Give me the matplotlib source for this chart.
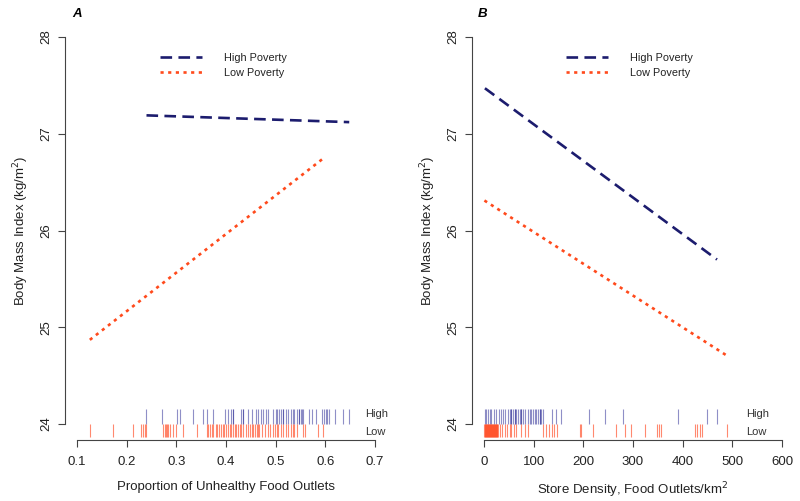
import matplotlib
matplotlib.use("Agg")
import matplotlib.pyplot as plt

plt.rcParams["font.family"] = ["Liberation Sans", "DejaVu Sans"]

HIGH_C = "#1c1c6e"
LOW_C = "#ff4a1c"
RUG_HI = "#333399"
RUG_LO = "#ff3a10"

# panel A: predicted BMI vs proportion of unhealthy outlets (line end points)
a_high_x = [0.240, 0.648]
a_high_y = [27.19, 27.12]
a_low_x = [0.126, 0.597]
a_low_y = [24.87, 26.75]

# panel B: predicted BMI vs store density
b_high_x = [2, 469]
b_high_y = [27.47, 25.70]
b_low_x = [1, 488]
b_low_y = [26.31, 24.71]

# rug values
a_rug_high = [0.240, 0.272, 0.302, 0.307, 0.333, 0.354, 0.361, 0.373, 0.398, 0.404,
              0.410, 0.415, 0.415, 0.431, 0.435, 0.435, 0.445, 0.452, 0.460, 0.465,
              0.470, 0.475, 0.480, 0.485, 0.495, 0.500, 0.503, 0.507, 0.510, 0.515,
              0.515, 0.521, 0.525, 0.530, 0.534, 0.537, 0.542, 0.547, 0.547, 0.550,
              0.553, 0.555, 0.567, 0.574, 0.582, 0.594, 0.597, 0.601, 0.604, 0.608,
              0.619, 0.635, 0.648]
a_rug_low = [0.126, 0.172, 0.213, 0.228, 0.233, 0.237, 0.240, 0.274, 0.277, 0.279,
             0.282, 0.284, 0.287, 0.293, 0.299, 0.313, 0.342, 0.361, 0.364, 0.368,
             0.371, 0.374, 0.380, 0.382, 0.386, 0.389, 0.393, 0.396, 0.400, 0.404,
             0.408, 0.411, 0.415, 0.418, 0.421, 0.425, 0.428, 0.431, 0.435, 0.440,
             0.445, 0.448, 0.452, 0.455, 0.458, 0.462, 0.465, 0.467, 0.472, 0.478,
             0.485, 0.488, 0.494, 0.498, 0.502, 0.505, 0.510, 0.515, 0.521, 0.525,
             0.530, 0.534, 0.537, 0.542, 0.555, 0.559, 0.586, 0.596]
b_rug_high = [1.3, 4.7, 8.0, 11.4, 14.8, 20.1, 24.8, 29.5, 33.5, 38.2, 42.9, 48.3,
              51.6, 55.0, 55.0, 58.3, 61.7, 61.7, 65.0, 68.4, 71.8, 75.1, 75.1, 78.5,
              81.8, 88.5, 91.9, 95.2, 98.6, 101.9, 105.3, 108.6, 112.0, 112.0, 115.4,
              118.7, 137, 145.5, 155.6, 211, 243, 280, 391, 448, 469]
b_rug_low = [1, 2, 3, 4, 5, 6, 7, 8, 9, 10, 11, 12, 13, 14, 15, 16, 17, 18, 19, 20,
             21, 22, 23, 24, 25, 26, 27, 28, 31.5, 36.2, 41.6, 46.9, 51.6, 55, 60.4,
             65, 75, 81.8, 88.5, 118.7, 125.4, 130, 136.8, 142, 147.5, 192.5, 196,
             218.6, 265.6, 283.7, 295, 323.9, 348.8, 351.5, 355.5, 424.6, 429.3,
             434.7, 438, 488.2]

DASH = (4.4, 2.4)
DOT = (1.2, 1.7)
FS = 9.5
LEG_FS = 7.8

fig = plt.figure(figsize=(8, 5.01), dpi=100)
W, H = 800, 501
axA = fig.add_axes([65 / W, 1 - 439.5 / H, 322 / W, 418 / H])
axB = fig.add_axes([472 / W, 1 - 439.5 / H, 322 / W, 418 / H])


def style(ax, xlim, xticks, xlabel, rug_hi, rug_lo, lab_x):
    lo, hi = xlim
    pad = (hi - lo) * 0.04
    ax.set_xlim(lo - pad, hi + pad)
    ax.set_ylim(24 - 0.16, 28 + 0.16)
    for s in ["top", "right"]:
        ax.spines[s].set_visible(False)
    ax.spines["left"].set_bounds(24, 28)
    ax.spines["bottom"].set_bounds(lo, hi)
    for s in ["left", "bottom"]:
        ax.spines[s].set_color("#444444")
        ax.spines[s].set_linewidth(0.8)
    ax.set_xticks(xticks)
    ax.set_yticks([24, 25, 26, 27, 28])
    ax.tick_params(length=5, width=0.8, color="#444444", labelsize=FS,
                   labelcolor="#222222")
    ax.tick_params(axis="x", pad=7)
    ax.tick_params(axis="y", pad=4)
    for t in ax.get_yticklabels():
        t.set_rotation(90)
        t.set_va("center")
    ax.set_xlabel(xlabel, fontsize=FS, color="#222222", labelpad=9)
    ax.set_ylabel("Body Mass Index (kg/m$^2$)", fontsize=FS, color="#222222", labelpad=7)
    ax.vlines(rug_hi, 24.0, 24.16, color=RUG_HI, alpha=0.55, lw=0.8)
    ax.vlines(rug_lo, 23.87, 24.0, color=RUG_LO, alpha=0.6, lw=0.8)
    ax.text(lab_x, 24.105, "High", fontsize=8, color="#333333", va="center")
    ax.text(lab_x, 23.92, "Low", fontsize=8, color="#333333", va="center")


style(axA, (0.1, 0.7), [0.1, 0.2, 0.3, 0.4, 0.5, 0.6, 0.7],
      "Proportion of Unhealthy Food Outlets", a_rug_high, a_rug_low, 0.679)
style(axB, (0, 600), [0, 100, 200, 300, 400, 500, 600],
      "Store Density, Food Outlets/km$^2$", b_rug_high, b_rug_low, 527)
axA.set_xticklabels(["0.1", "0.2", "0.3", "0.4", "0.5", "0.6", "0.7"])

for ax, hx, hy, lx, ly, lgx in [(axA, a_high_x, a_high_y, a_low_x, a_low_y, 0.295),
                                (axB, b_high_x, b_high_y, b_low_x, b_low_y, 0.292)]:
    h, = ax.plot(hx, hy, color=HIGH_C, lw=1.9, dashes=DASH, label="High Poverty")
    l, = ax.plot(lx, ly, color=LOW_C, lw=1.9, dashes=DOT, label="Low Poverty")
    ax.legend(handles=[h, l], loc="center left", bbox_to_anchor=(lgx, 0.895),
              frameon=False, fontsize=LEG_FS, handlelength=3.9, handletextpad=2.0,
              labelspacing=0.45, borderpad=0, borderaxespad=0, labelcolor="#222222")

fig.text(77 / W, 1 - 14 / H, "A", fontsize=9.5, fontweight="bold", fontstyle="italic",
         ha="center", va="center")
fig.text(483 / W, 1 - 14 / H, "B", fontsize=9.5, fontweight="bold", fontstyle="italic",
         ha="center", va="center")

fig.savefig("out.png", dpi=100, facecolor="white")
